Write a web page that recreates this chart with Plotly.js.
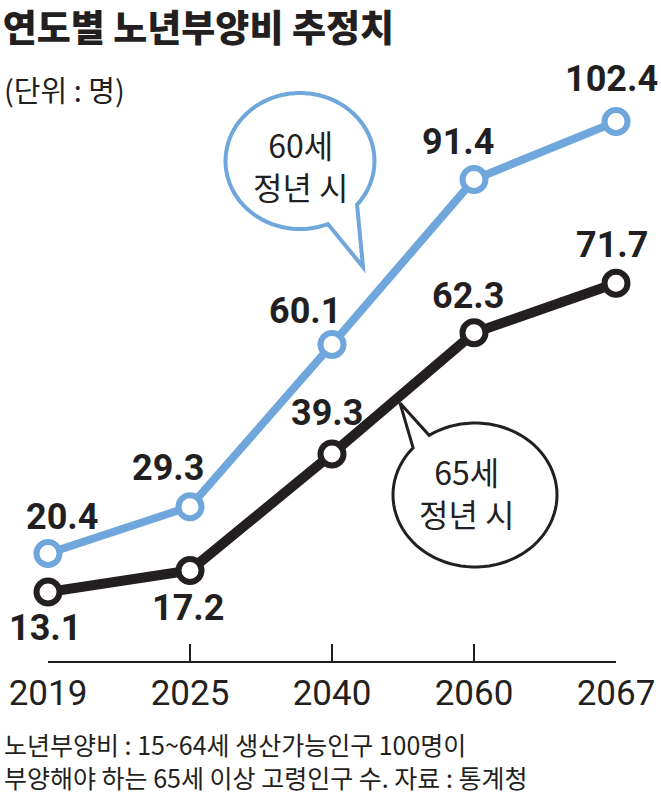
<!DOCTYPE html>
<html>
<head>
<meta charset="utf-8">
<script src="https://cdn.plot.ly/plotly-3.0.1.min.js"></script>
<style>
  body { margin: 0; background: #fff; }
  #chart { width: 661px; height: 795px; }
</style>
</head>
<body>
<div id="chart"></div>
<script>
// data
const years = ['2019', '2025', '2040', '2060', '2067'];
const retire60 = [20.4, 29.3, 60.1, 91.4, 102.4];
const retire65 = [13.1, 17.2, 39.3, 62.3, 71.7];

// label offsets in px (x, y-up)
const shift60 = [[14, 37], [-22, 39], [-27, 33], [-16, 38], [-5, 43]];
const shift65 = [[-3, -36], [-2, -38], [-5, 41], [-6, 37], [-4, 38]];

const BLUE = '#6fa7dc';
const INK = '#231f20';
const numFont = 'Roboto, sans-serif';
const krFont = 'Noto Sans CJK KR, sans-serif';

// plot box in px
const L = 48, R = 45, T = 100, B = 134;
const W = 661 - L - R, H = 795 - T - B;
const px = x => (x - L) / W;
const py = y => (795 - B - y) / H;

// speech bubble outline (ellipse + tail), built in px then turned into paper coords
function bubble(cx, cy, rx, ry, a1, a2, tip) {
  let pts = [];
  for (let a = a2; a <= a1 + 360; a += 4) {
    let r = a * Math.PI / 180;
    pts.push([cx + rx * Math.cos(r), cy + ry * Math.sin(r)]);
  }
  let r1 = (a1 + 360) * Math.PI / 180;
  pts.push([cx + rx * Math.cos(r1), cy + ry * Math.sin(r1)]);
  pts.push(tip);
  return 'M' + pts.map(p => px(p[0]).toFixed(4) + ',' + py(p[1]).toFixed(4)).join(' L') + ' Z';
}

let trace60 = {
  type: 'scatter',
  mode: 'lines+markers',
  x: years,
  y: retire60,
  cliponaxis: false,
  line: {color: BLUE, width: 8},
  marker: {size: 23, color: '#fff', line: {color: BLUE, width: 6}},
  hoverinfo: 'skip'
};

let trace65 = {
  type: 'scatter',
  mode: 'lines+markers',
  x: years,
  y: retire65,
  cliponaxis: false,
  line: {color: INK, width: 10},
  marker: {size: 23, color: '#fff', line: {color: INK, width: 6}},
  hoverinfo: 'skip'
};

let annotations = [];
years.forEach((yr, i) => {
  annotations.push({
    x: i, y: retire60[i], text: String(retire60[i]), showarrow: false,
    xanchor: 'center', yanchor: 'middle',
    xshift: shift60[i][0], yshift: shift60[i][1],
    font: {family: numFont, size: 36, weight: 700, color: INK}
  });
  annotations.push({
    x: i, y: retire65[i], text: String(retire65[i]), showarrow: false,
    xanchor: 'center', yanchor: 'middle',
    xshift: shift65[i][0], yshift: shift65[i][1],
    font: {family: numFont, size: 36, weight: 700, color: INK}
  });
});

// bubble texts
annotations.push(
  {xref: 'paper', yref: 'paper', x: px(301), y: py(165), xanchor: 'center', yanchor: 'middle',
   text: '60세<br>정년 시', showarrow: false,
   font: {family: krFont, size: 32, color: INK}},
  {xref: 'paper', yref: 'paper', x: px(467), y: py(492), xanchor: 'center', yanchor: 'middle',
   text: '65세<br>정년 시', showarrow: false,
   font: {family: krFont, size: 32, color: INK}}
);

// subtitle and footnote
annotations.push(
  {xref: 'paper', yref: 'paper', x: px(2), y: py(89), xanchor: 'left', yanchor: 'middle', showarrow: false,
   text: '(단위 : 명)', font: {family: krFont, size: 29, color: INK}},
  {xref: 'paper', yref: 'paper', x: px(2), y: py(760), xanchor: 'left', yanchor: 'middle', align: 'left',
   showarrow: false,
   text: '노년부양비 : 15~64세 생산가능인구 100명이<br>부양해야 하는 65세 이상 고령인구 수. 자료 : 통계청',
   font: {family: krFont, size: 25, color: INK}}
);

let shapes = [
  {type: 'path', xref: 'paper', yref: 'paper', layer: 'above',
   path: bubble(300, 161, 74.5, 68, 40, 68, [363, 267]),
   fillcolor: '#fff', line: {color: BLUE, width: 4}},
  {type: 'path', xref: 'paper', yref: 'paper', layer: 'above',
   path: bubble(475, 495, 82, 72, 221, 236, [400, 403]),
   fillcolor: '#fff', line: {color: INK, width: 3}}
];

let layout = {
  width: 661,
  height: 795,
  margin: {l: L, r: R, t: T, b: B},
  paper_bgcolor: '#ffffff',
  plot_bgcolor: '#ffffff',
  showlegend: false,
  title: {
    text: '연도별 노년부양비 추정치',
    xref: 'container', yref: 'container',
    x: 0.004, xanchor: 'left', y: 1 - 29 / 795, yanchor: 'middle',
    font: {family: krFont, size: 37, weight: 900, color: INK}
  },
  xaxis: {
    type: 'category',
    range: [0, 4],
    showgrid: false,
    zeroline: false,
    showline: true,
    linecolor: INK,
    linewidth: 2,
    ticks: 'inside',
    ticklen: 17,
    tickwidth: 2,
    tickcolor: INK,
    tickfont: {family: numFont, size: 35, color: INK},
    fixedrange: true
  },
  yaxis: {
    visible: false,
    range: [0, 106.5],
    fixedrange: true
  },
  annotations: annotations,
  shapes: shapes
};

Plotly.newPlot('chart', [trace60, trace65], layout, {displayModeBar: false, staticPlot: true});
</script>
</body>
</html>
